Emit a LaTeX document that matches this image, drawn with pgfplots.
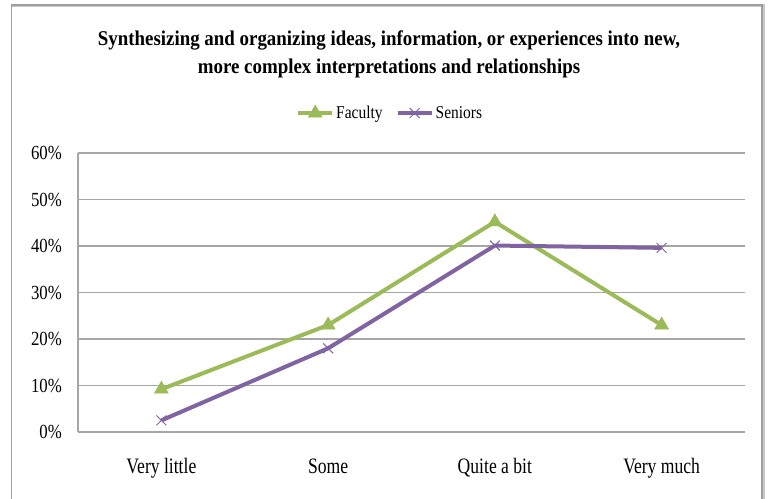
\documentclass[border=0pt]{standalone}
\usepackage{pgfplots}
\pgfplotsset{compat=1.18}
\usepackage{fontspec}
\setmainfont{Liberation Serif}[FakeStretch=0.85]
\newfontfamily\titlefont{Liberation Serif}[FakeStretch=0.9]
\newfontfamily\xfont{Liberation Serif}[FakeStretch=0.8]
\newfontfamily\yfont{Liberation Serif}[FakeStretch=0.84]
\newfontfamily\legfont{Liberation Serif}[FakeStretch=0.86]
\definecolor{fac}{HTML}{9BBB59}
\definecolor{sen}{HTML}{8064A2}
\definecolor{gridc}{HTML}{A6A6A6}
\begin{document}
\begin{tikzpicture}[x=1pt,y=1pt]
\useasboundingbox (0,0) rectangle (770,498);
\clip (0,0) rectangle (770,498);
\fill[white] (0,0) rectangle (770,498);
\draw[gray!45, line width=3pt] (11.5,492.5) -- (763,492.5) -- (763,-10);
\draw[gray!75, line width=1.5pt] (11.5,-10) -- (11.5,493) -- (762,493) -- (762,-10);
\node[font=\titlefont\fontsize{21}{24}\selectfont\bfseries, anchor=base] at (389,452) {Synthesizing and organizing ideas, information, or experiences into new,};
\node[font=\titlefont\fontsize{21}{24}\selectfont\bfseries, anchor=base] at (389,424) {more complex interpretations and relationships};
\begin{axis}[
  at={(78pt,66pt)}, anchor=south west,
  scale only axis, width=667pt, height=279pt,
  xmin=-0.5, xmax=3.5, ymin=0, ymax=60,
  xtick={0,1,2,3},
  xticklabels={Very little, Some, Quite a bit, Very much},
  ytick={0,10,20,30,40,50,60},
  yticklabel={\pgfmathprintnumber{\tick}\%},
  /pgf/number format/assume math mode=true,
  major tick length=0pt,
  ymajorgrids, grid style={gridc, line width=1.1pt},
  axis x line*=bottom, axis y line*=left,
  axis line style={gridc, line width=1.1pt, -},
  xticklabel style={font=\xfont\fontsize{22}{24}\selectfont, anchor=base, yshift=-41pt},
  yticklabel style={font=\yfont\fontsize{20}{22}\selectfont, anchor=east, inner sep=0pt, xshift=-16pt},
  legend style={at={(0.468,1.143)}, anchor=center, draw=none, fill=none,
    font=\legfont\fontsize{18}{20}\selectfont, legend columns=2,
    /tikz/every even column/.append style={column sep=11pt}},
  legend image code/.code={\draw[#1, mark repeat=2, mark phase=2] plot coordinates {(0pt,0pt) (17pt,0pt) (34pt,0pt)};},
]
\addplot[fac, line width=4pt, mark=triangle*, mark size=8pt, mark options={fill=fac, line width=0.5pt}]
  coordinates {(0,9.2) (1,23) (2,45.2) (3,23)};
\addlegendentry{Faculty}
\addplot[sen, line width=4pt, mark=x, mark size=7pt, mark options={line width=1pt}]
  coordinates {(0,2.5) (1,18) (2,40.1) (3,39.6)};
\addlegendentry{Seniors}
\end{axis}
\end{tikzpicture}
\end{document}
